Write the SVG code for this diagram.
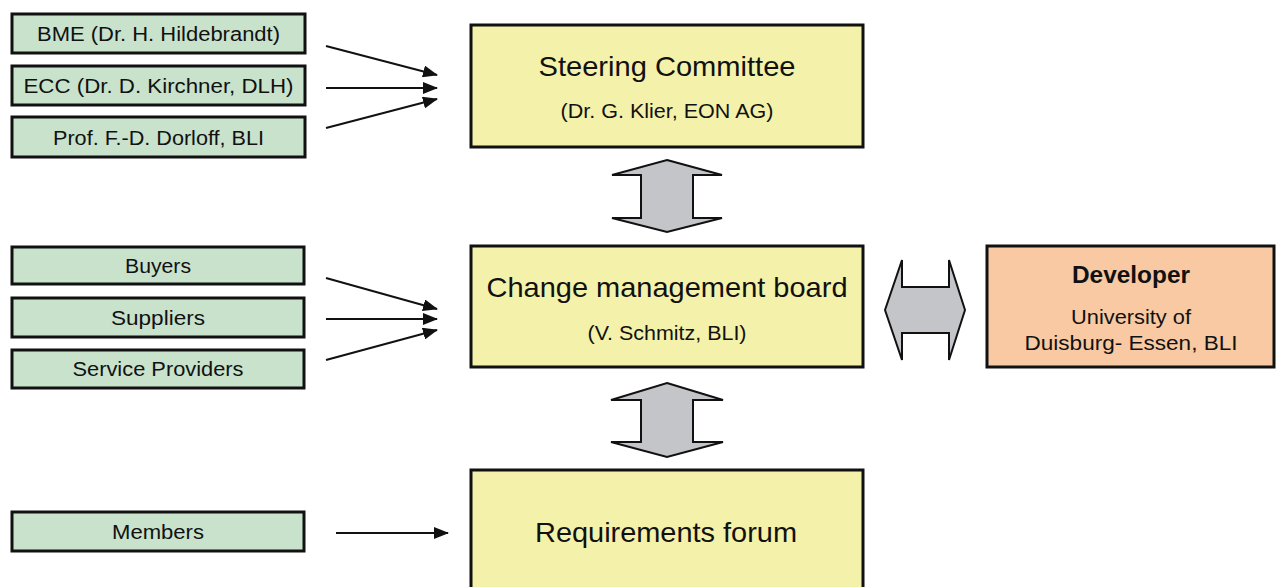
<svg xmlns="http://www.w3.org/2000/svg" width="1278" height="587" viewBox="0 0 1278 587">
  <style>
    .green { fill: #c8e2cc; stroke: #111; stroke-width: 3; }
    .yellow { fill: #f3f1aa; stroke: #111; stroke-width: 3; }
    .orange { fill: #f8c9a2; stroke: #111; stroke-width: 3; }
    .block { fill: #c3c5c8; stroke: #111; stroke-width: 2; stroke-linejoin: miter; }
    .conn { stroke: #111; stroke-width: 2; fill: none; marker-end: url(#ah); }
    text { font-family: "Liberation Sans", Arial, sans-serif; fill: #111; text-anchor: middle; }
    .small { font-size: 20px; }
    .title { font-size: 28px; }
    .sub { font-size: 20px; }
    .dev { font-size: 24px; font-weight: bold; }
  </style>
  <defs>
    <marker id="ah" markerUnits="userSpaceOnUse" markerWidth="15" markerHeight="12" refX="14" refY="6" orient="auto">
      <path d="M0,0 L15,6 L0,12 z" fill="#111"/>
    </marker>
  </defs>
  <rect width="1278" height="587" fill="#ffffff"/>

  <g id="bme">
    <rect class="green" x="12" y="14" width="293" height="39"/>
    <text class="small" x="158.5" y="41" textLength="243" lengthAdjust="spacingAndGlyphs">BME (Dr. H. Hildebrandt)</text>
  </g>
  <g id="ecc">
    <rect class="green" x="12" y="66" width="293" height="39"/>
    <text class="small" x="158.5" y="93" textLength="270" lengthAdjust="spacingAndGlyphs">ECC (Dr. D. Kirchner, DLH)</text>
  </g>
  <g id="dorloff">
    <rect class="green" x="12" y="117" width="293" height="40"/>
    <text class="small" x="158.5" y="144.5" textLength="211" lengthAdjust="spacingAndGlyphs">Prof. F.-D. Dorloff, BLI</text>
  </g>
  <g id="buyers">
    <rect class="green" x="12" y="247" width="292" height="37"/>
    <text class="small" x="158" y="272.5" textLength="66" lengthAdjust="spacingAndGlyphs">Buyers</text>
  </g>
  <g id="suppliers">
    <rect class="green" x="12" y="298" width="292" height="39"/>
    <text class="small" x="158" y="324.5" textLength="94" lengthAdjust="spacingAndGlyphs">Suppliers</text>
  </g>
  <g id="service">
    <rect class="green" x="12" y="350" width="292" height="38"/>
    <text class="small" x="158" y="376" textLength="171" lengthAdjust="spacingAndGlyphs">Service Providers</text>
  </g>
  <g id="members">
    <rect class="green" x="12" y="512" width="292" height="39"/>
    <text class="small" x="158" y="538.5" textLength="92" lengthAdjust="spacingAndGlyphs">Members</text>
  </g>

  <g id="steering">
    <rect class="yellow" x="471" y="25" width="392" height="122"/>
    <text class="title" x="667" y="76" textLength="257" lengthAdjust="spacingAndGlyphs">Steering Committee</text>
    <text class="sub" x="667" y="118" textLength="213" lengthAdjust="spacingAndGlyphs">(Dr. G. Klier, EON AG)</text>
  </g>
  <g id="change">
    <rect class="yellow" x="471" y="246" width="392" height="121"/>
    <text class="title" x="667" y="297" textLength="361" lengthAdjust="spacingAndGlyphs">Change management board</text>
    <text class="sub" x="667" y="340" textLength="159" lengthAdjust="spacingAndGlyphs">(V. Schmitz, BLI)</text>
  </g>
  <g id="requirements">
    <rect class="yellow" x="471" y="470" width="392" height="124"/>
    <text class="title" x="666" y="542" textLength="262" lengthAdjust="spacingAndGlyphs">Requirements forum</text>
  </g>
  <g id="developer">
    <rect class="orange" x="987" y="246" width="287" height="121"/>
    <text class="dev" x="1131" y="283" textLength="118" lengthAdjust="spacingAndGlyphs">Developer</text>
    <text class="sub" x="1131" y="324" textLength="120" lengthAdjust="spacingAndGlyphs">University of</text>
    <text class="sub" x="1131" y="350" textLength="213" lengthAdjust="spacingAndGlyphs">Duisburg- Essen, BLI</text>
  </g>

  <g id="connectors">
    <line class="conn" x1="326" y1="46" x2="437" y2="75"/>
    <line class="conn" x1="326" y1="88" x2="437" y2="88"/>
    <line class="conn" x1="326" y1="128" x2="437" y2="99"/>
    <line class="conn" x1="326" y1="278" x2="437" y2="309"/>
    <line class="conn" x1="326" y1="319" x2="437" y2="319"/>
    <line class="conn" x1="326" y1="360" x2="437" y2="330"/>
    <line class="conn" x1="336" y1="533" x2="448" y2="533"/>
    <polygon class="block" points="667,160 722,175 693,175 693,218 722,218 667,232 612,218 641,218 641,175 612,175"/>
    <polygon class="block" points="667,383 723,400 693,400 693,442 723,442 667,457 611,442 641,442 641,400 611,400"/>
    <polygon class="block" points="885,310 902,260 902,287 949,287 949,260 965,310 949,360 949,333 902,333 902,360"/>
  </g>
</svg>
